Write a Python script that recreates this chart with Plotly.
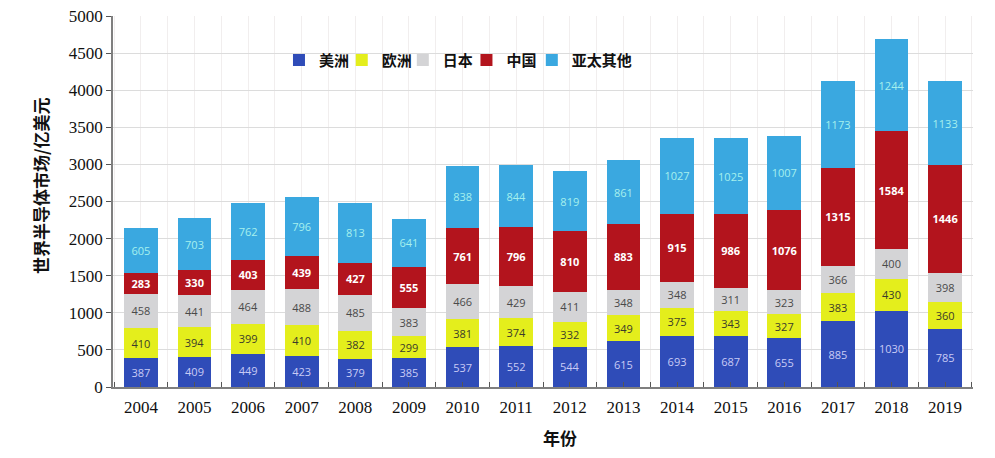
import plotly.graph_objects as go

years = list(range(2004, 2020))

# values in 亿美元
america = [387, 409, 449, 423, 379, 385, 537, 552, 544, 615, 693, 687, 655, 885, 1030, 785]
europe = [410, 394, 399, 410, 382, 299, 381, 374, 332, 349, 375, 343, 327, 383, 430, 360]
japan = [458, 441, 464, 488, 485, 383, 466, 429, 411, 348, 348, 311, 323, 366, 400, 398]
china = [283, 330, 403, 439, 427, 555, 761, 796, 810, 883, 915, 986, 1076, 1315, 1584, 1446]
apac_other = [605, 703, 762, 796, 813, 641, 838, 844, 819, 861, 1027, 1025, 1007, 1173, 1244, 1133]

series = [
    ("美洲", america, "#2f4cb8", "#c9cbf5", False),
    ("欧洲", europe, "#e4ee1c", "#3b3b2b", False),
    ("日本", japan, "#d4d4d6", "#4a4a4a", False),
    ("中国", china, "#b3141d", "#ffffff", True),
    ("亚太其他", apac_other, "#3aa8e0", "#a6f0ee", False),
]

# one small legend per series so the entries sit close together like the original
legend_x = [0.193, 0.266, 0.337, 0.411, 0.487]

fig = go.Figure()
for i, (name, vals, color, txtcolor, bold) in enumerate(series):
    fig.add_trace(go.Bar(
        x=years, y=vals, name=f"<b>{name}</b>",
        marker=dict(color=color, line=dict(width=0)),
        width=0.63,
        text=[f"<b>{v}</b>" if bold else str(v) for v in vals],
        textposition="inside", insidetextanchor="middle", textangle=0,
        constraintext="none",
        insidetextfont=dict(family="Open Sans", size=11, color=txtcolor),
        legend="legend" if i == 0 else f"legend{i + 1}",
        showlegend=True,
    ))

legend_style = dict(
    orientation="h", y=0.881, xanchor="left", yanchor="middle",
    font=dict(family="Noto Sans CJK SC", size=15, color="#111"),
    bgcolor="rgba(0,0,0,0)", itemwidth=30,
)
legends = {}
for i, lx in enumerate(legend_x):
    key = "legend" if i == 0 else f"legend{i + 1}"
    legends[key] = dict(legend_style, x=lx)

# page body has an 8px margin, so the figure is a little smaller than the window
fig.update_layout(
    barmode="stack",
    width=987, height=450,
    margin=dict(l=105, r=22, t=8, b=71),
    paper_bgcolor="white", plot_bgcolor="white",
    showlegend=True,
    xaxis=dict(
        range=[2003.48, 2019.52], automargin=False,
        tickmode="array", tickvals=years, ticktext=[str(y) for y in years],
        ticks="", showgrid=True, gridcolor="#f1eeee", gridwidth=1,
        minor=dict(dtick=0.5, tick0=2003.5, ticks="inside", ticklen=5,
                   tickcolor="#555", showgrid=True, gridcolor="#f1eeee"),
        showline=True, linecolor="#7f7f7f", linewidth=1.5,
        tickfont=dict(family="Liberation Serif", size=17, color="#111"),
        ticklabelstandoff=4,
        zeroline=False,
    ),
    yaxis=dict(
        range=[0, 5000], dtick=500, automargin=False,
        ticks="outside", ticklen=5, tickcolor="#555",
        showgrid=True, gridcolor="#dcdcdc", gridwidth=1,
        showline=True, linecolor="#7f7f7f", linewidth=1.5,
        tickfont=dict(family="Liberation Serif", size=17, color="#111"),
        ticklabeloverflow="allow",
        zeroline=False,
    ),
    annotations=[
        dict(text="<b>世界半导体市场/亿美元</b>", xref="paper", yref="paper",
             x=-0.085, y=0.544, xanchor="center", yanchor="middle",
             textangle=-90, showarrow=False,
             font=dict(family="Noto Sans CJK SC", size=17, color="#111")),
        dict(text="<b>年份</b>", xref="paper", yref="paper",
             x=0.52, y=-0.137, xanchor="center", yanchor="middle", showarrow=False,
             font=dict(family="Noto Sans CJK SC", size=17, color="#111")),
    ],
    **legends,
)

fig.write_html("out.html")
